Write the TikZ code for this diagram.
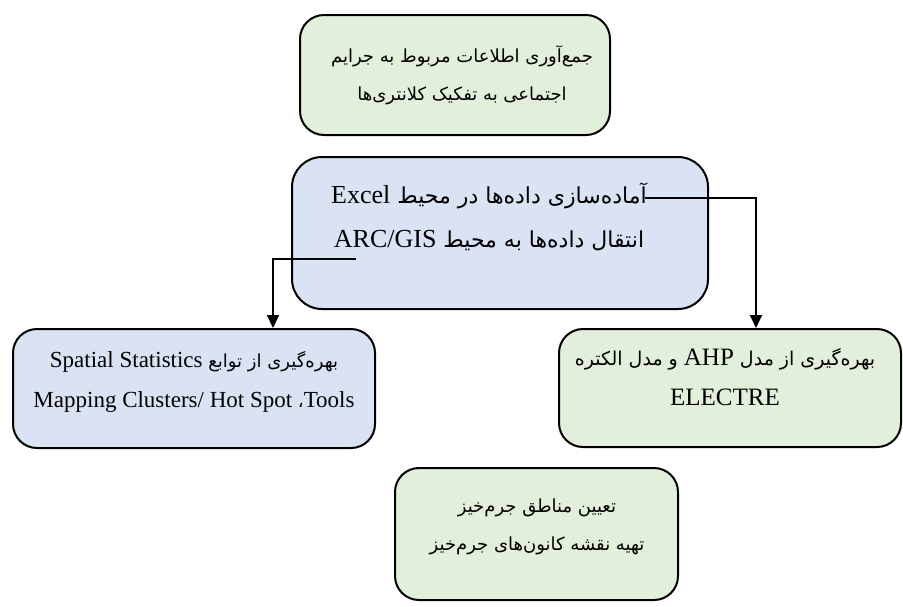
\documentclass[tikz,border=0pt]{standalone}
\usepackage{fontspec}
\setmainfont{Liberation Serif}
\newfontfamily\fa[Script=Arabic]{DejaVu Sans}
\newcommand\en[2][12.5]{{\rmfamily\fontsize{#1}{20}\selectfont #2}}
\TeXXeTstate=1
\usetikzlibrary{arrows.meta}
\definecolor{boxgreen}{HTML}{E2EFDA}
\definecolor{boxblue}{HTML}{DAE3F3}

\begin{document}
\begin{tikzpicture}[x=0.5pt,y=-0.5pt,
    box/.style={draw,line width=1pt,rounded corners=12pt},
    greenbox/.style={box,fill=boxgreen},
    bluebox/.style={box,fill=boxblue},
    txt/.style 2 args={align=center,font=\fontsize{#1}{#2}\selectfont\fa},
    arr/.style={line width=1pt,-{Triangle[width=6pt,length=6.5pt]}}]
  \useasboundingbox (0,0) rectangle (903,606);
  % boxes
  \node[greenbox,minimum width=155pt,minimum height=60pt] (collect) at (455,75) {};
  \node[bluebox,minimum width=208pt,minimum height=76pt,rounded corners=15pt] (prep) at (500,233) {};
  \node[bluebox,minimum width=181pt,minimum height=59.5pt] (spatial) at (194,388.5) {};
  \node[greenbox,minimum width=171pt,minimum height=59pt] (ahp) at (730,388) {};
  \node[greenbox,minimum width=141.5pt,minimum height=66pt] (hot) at (536.5,534) {};
  % texts
  \node[txt={9}{19}] (collectT) at (462,75) {\beginR جمع‌آوری اطلاعات مربوط به جرایم\endR\\
    \beginR اجتماعی به تفکیک کلانتری‌ها\endR};
  \node[txt={11}{22}] (prepT) at (489,217) {\beginR آماده‌سازی داده‌ها در محیط \beginL\en[13]{Excel}\endL\endR\\
    \beginR انتقال داده‌ها به محیط \beginL\en[13]{ARC/GIS}\endL\endR};
  \node[txt={9}{20}] (spatialT) at (194,382) {\beginR بهره‌گیری از توابع  \beginL\en[11.5]{Spatial Statistics}\endL\endR\\
    \en[11.5]{Mapping Clusters/ Hot Spot }{\fa ،}\en[11.5]{Tools}};
  \node[txt={9.5}{20}] (ahpT) at (725,377) {\beginR بهره‌گیری از مدل \beginL\en{AHP}\endL{} و مدل الکتره\endR\\
    \en{ELECTRE}};
  \node[txt={9}{19}] (hotT) at (537,527) {\beginR تعیین مناطق جرم‌خیز\endR\\
    \beginR تهیه نقشه کانون‌های جرم‌خیز\endR};
  % connectors
  \coordinate (prepR) at (645,198);
  \coordinate (prepL) at (356,259);
  \coordinate (ahpIn) at ([xshift=13pt]ahp.north);
  \coordinate (spatialIn) at ([xshift=39.5pt]spatial.north);
  \draw[arr] (prepR) -| (ahpIn);
  \draw[arr] (prepL) -| (spatialIn);
\end{tikzpicture}
\end{document}
